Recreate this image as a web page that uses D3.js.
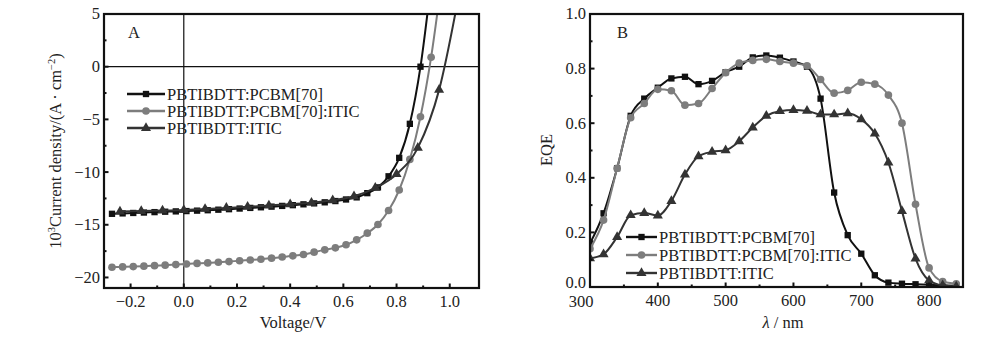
<!DOCTYPE html>
<html><head><meta charset="utf-8">
<script src="https://cdn.jsdelivr.net/npm/d3@7"></script>
<style>
body{margin:0;background:#fff;}
svg text{font-family:"Liberation Serif","Times New Roman",serif;fill:#222;}
</style></head>
<body><svg id="c" width="1000" height="344"></svg>
<script>
// ---------- Panel A data (J–V) ----------
const seriesNames = ["PBTIBDTT:PCBM[70]", "PBTIBDTT:PCBM[70]:ITIC", "PBTIBDTT:ITIC"];
const vPCBM = [-0.27,-0.23,-0.19,-0.15,-0.11,-0.07,-0.03,0.01,0.05,0.09,0.13,0.17,0.21,0.25,0.29,0.33,0.37,0.41,0.45,0.49,0.53,0.57,0.61,0.65,0.69,0.73,0.77,0.81,0.85,0.89,0.93];
const jPCBM = [-13.96,-13.92,-13.88,-13.84,-13.8,-13.76,-13.73,-13.7,-13.66,-13.62,-13.57,-13.52,-13.46,-13.4,-13.34,-13.28,-13.21,-13.14,-13.06,-12.97,-12.87,-12.75,-12.6,-12.4,-12.0,-11.45,-10.4,-8.65,-5.42,0.0,8.0];
const vTern = [-0.27,-0.23,-0.19,-0.15,-0.11,-0.07,-0.03,0.01,0.05,0.09,0.13,0.17,0.21,0.25,0.29,0.33,0.37,0.41,0.45,0.49,0.53,0.57,0.61,0.65,0.69,0.73,0.77,0.81,0.85,0.89,0.93,0.97];
const jTern = [-19.03,-19.0,-18.97,-18.93,-18.88,-18.83,-18.78,-18.72,-18.67,-18.62,-18.56,-18.49,-18.41,-18.34,-18.27,-18.17,-18.06,-17.95,-17.82,-17.6,-17.38,-17.19,-16.9,-16.43,-15.8,-14.97,-13.65,-11.7,-8.8,-4.75,0.9,8.3];
const vITIC = [-0.24,-0.16,-0.08,0.0,0.08,0.16,0.24,0.32,0.40,0.48,0.56,0.64,0.72,0.80,0.88,0.96,1.04];
const jITIC = [-13.75,-13.7,-13.65,-13.6,-13.5,-13.4,-13.3,-13.17,-13.05,-12.92,-12.68,-12.3,-11.5,-10.2,-7.7,-2.2,7.6];
const xTicksA = [-0.2,0.0,0.2,0.4,0.6,0.8,1.0];
const xMinorA = [-0.1,0.1,0.3,0.5,0.7,0.9];
const yTicksA = [5,0,-5,-10,-15,-20];
const yMinorA = [2.5,-2.5,-7.5,-12.5,-17.5];

// ---------- Panel B data (EQE) ----------
const wl = [300,320,340,360,380,400,420,440,460,480,500,520,540,560,580,600,620,640,660,680,700,720,740,760,780,800,820,840];
const eqePCBM = [0.16,0.27,0.435,0.627,0.69,0.73,0.764,0.77,0.743,0.755,0.787,0.807,0.841,0.848,0.84,0.826,0.807,0.69,0.346,0.19,0.122,0.043,0.016,0.012,0.01,0.008,0.006,0.005];
const eqeTern = [0.14,0.245,0.435,0.62,0.672,0.724,0.719,0.666,0.672,0.727,0.785,0.82,0.83,0.834,0.826,0.82,0.81,0.76,0.71,0.72,0.75,0.743,0.703,0.6,0.303,0.07,0.02,0.012];
const eqeITIC = [0.105,0.12,0.183,0.263,0.271,0.262,0.315,0.412,0.479,0.495,0.501,0.534,0.584,0.627,0.644,0.648,0.645,0.632,0.632,0.636,0.614,0.562,0.456,0.278,0.104,0.024,0.006,0.002];
const xTicksB = [300,400,500,600,700,800];
const xMinorB = [350,450,550,650,750,850];
const yTicksB = [0,0.2,0.4,0.6,0.8,1.0];
const yMinorB = [0.1,0.3,0.5,0.7,0.9];

const colors = ["#111111", "#7d7d7d", "#333333"];
const shapes = [d3.symbolSquare, d3.symbolCircle, d3.symbolTriangle];
const symSize = [40, 46, 44];
const FS = 16.5;

const svg = d3.select("#c");
const fmtMinus = s => s.replace("-", "\u2212");

function panel(cfg){
  const g = svg.append("g");
  const x = d3.scaleLinear().domain(cfg.xd).range([cfg.x0, cfg.x1]);
  const y = d3.scaleLinear().domain(cfg.yd).range([cfg.y1, cfg.y0]);
  const clipId = "clip" + cfg.id;
  svg.append("clipPath").attr("id", clipId).append("rect")
    .attr("x", cfg.x0).attr("y", cfg.y0).attr("width", cfg.x1 - cfg.x0).attr("height", cfg.y1 - cfg.y0);

  if (cfg.zero){
    g.append("line").attr("x1", x(0)).attr("x2", x(0)).attr("y1", cfg.y0).attr("y2", cfg.y1).attr("stroke","#111").attr("stroke-width",1.2);
    g.append("line").attr("x1", cfg.x0).attr("x2", cfg.x1).attr("y1", y(0)).attr("y2", y(0)).attr("stroke","#111").attr("stroke-width",1.2);
  }

  const plot = g.append("g").attr("clip-path", `url(#${clipId})`);
  cfg.series.forEach((s, i) => {
    const pts = s.xs.map((v, k) => [v, s.ys[k]]);
    const line = d3.line().x(d => x(d[0])).y(d => y(d[1])).curve(d3.curveMonotoneX);
    plot.append("path").attr("d", line(pts)).attr("fill","none").attr("stroke", colors[i]).attr("stroke-width", 2);
    plot.selectAll(null).data(pts).enter().append("path")
      .attr("d", d3.symbol().type(shapes[i]).size(symSize[i]))
      .attr("transform", d => `translate(${x(d[0])},${y(d[1])})`)
      .attr("fill", colors[i]);
  });

  const tk = g.append("g").attr("stroke","#111").attr("stroke-width",2);
  cfg.xt.forEach(v => tk.append("line").attr("x1",x(v)).attr("x2",x(v)).attr("y1",cfg.y1).attr("y2",cfg.y1-4.5));
  cfg.xm.forEach(v => tk.append("line").attr("x1",x(v)).attr("x2",x(v)).attr("y1",cfg.y1).attr("y2",cfg.y1-2.5));
  cfg.yt.forEach(v => tk.append("line").attr("y1",y(v)).attr("y2",y(v)).attr("x1",cfg.x0).attr("x2",cfg.x0+4.5));
  cfg.ym.forEach(v => tk.append("line").attr("y1",y(v)).attr("y2",y(v)).attr("x1",cfg.x0).attr("x2",cfg.x0+2.5));

  g.append("rect").attr("x",cfg.x0).attr("y",cfg.y0).attr("width",cfg.x1-cfg.x0).attr("height",cfg.y1-cfg.y0)
    .attr("fill","none").attr("stroke","#111").attr("stroke-width",2.2);

  const firstX = v => cfg.xlabShift && v === cfg.xd[0];
  cfg.xt.forEach(v => g.append("text").attr("x", x(v) + (firstX(v) ? cfg.xlabShift : 0)).attr("y", cfg.y1 + (firstX(v) ? 20 : 19))
    .attr("text-anchor","middle").attr("font-size",FS).text(fmtMinus(cfg.xf(v))));
  cfg.yt.forEach(v => g.append("text").attr("x", cfg.x0 - 4).attr("y", y(v) - (v===cfg.yd[0] && cfg.xlabShift ? 4 : 0)).attr("dy","0.33em")
    .attr("text-anchor","end").attr("font-size",FS).text(fmtMinus(cfg.yf(v))));

  g.append("text").attr("x", cfg.letterX).attr("y", 38).attr("font-size",FS).text(cfg.letter);

  cfg.series.forEach((s, i) => {
    const ly = cfg.legY[i];
    g.append("line").attr("x1",cfg.legX).attr("x2",cfg.legX+cfg.legW).attr("y1",ly).attr("y2",ly).attr("stroke",colors[i]).attr("stroke-width",2.4);
    g.append("path").attr("d", d3.symbol().type(shapes[i]).size(symSize[i]))
      .attr("transform", `translate(${cfg.legX+cfg.legW/2},${ly})`).attr("fill", colors[i]);
    g.append("text").attr("x", cfg.legX+cfg.legW+2).attr("y", ly).attr("dy","0.35em").attr("font-size",FS).text(seriesNames[i]);
  });
  return {g, x, y};
}

const A = panel({
  id:"A", x0:104, x1:479, y0:14, y1:288, xd:[-0.3,1.11], yd:[-21,5], zero:true,
  xt:xTicksA, xm:xMinorA, yt:yTicksA, ym:yMinorA,
  xf:d3.format(".1f"), yf:d3.format("d"),
  series:[{xs:vPCBM, ys:jPCBM},{xs:vTern, ys:jTern},{xs:vITIC, ys:jITIC}],
  letter:"A", letterX:128, legX:127, legW:38, legY:[94,111,128]
});
A.g.append("text").attr("x",293).attr("y",328).attr("text-anchor","middle").attr("font-size",FS).text("Voltage/V");
const ta = A.g.append("text").attr("transform","translate(61,151) rotate(-90)").attr("text-anchor","middle").attr("font-size",FS);
ta.append("tspan").text("10");
ta.append("tspan").attr("font-size",10.5).attr("dy",-6).text("3");
ta.append("tspan").attr("dy",6).text("Current density/(A \u00b7 cm");
ta.append("tspan").attr("font-size",10.5).attr("dy",-6).text("\u22122");
ta.append("tspan").attr("dy",6).text(")");

const B = panel({
  id:"B", x0:590, x1:963, y0:14, y1:287, xd:[300,850], yd:[0,1], zero:false,
  xt:xTicksB, xm:xMinorB, yt:yTicksB, ym:yMinorB,
  xf:d3.format("d"), yf:d3.format(".1f"), xlabShift:-9,
  series:[{xs:wl, ys:eqePCBM},{xs:wl, ys:eqeTern},{xs:wl, ys:eqeITIC}],
  letter:"B", letterX:617, legX:626, legW:31, legY:[237,255,273]
});
const tb = B.g.append("text").attr("x",783).attr("y",328).attr("text-anchor","middle").attr("font-size",FS);
tb.append("tspan").attr("font-style","italic").text("\u03bb");
tb.append("tspan").text(" / nm");
B.g.append("text").attr("transform","translate(552,150) rotate(-90)").attr("text-anchor","middle").attr("font-size",FS).text("EQE");
</script></body></html>
